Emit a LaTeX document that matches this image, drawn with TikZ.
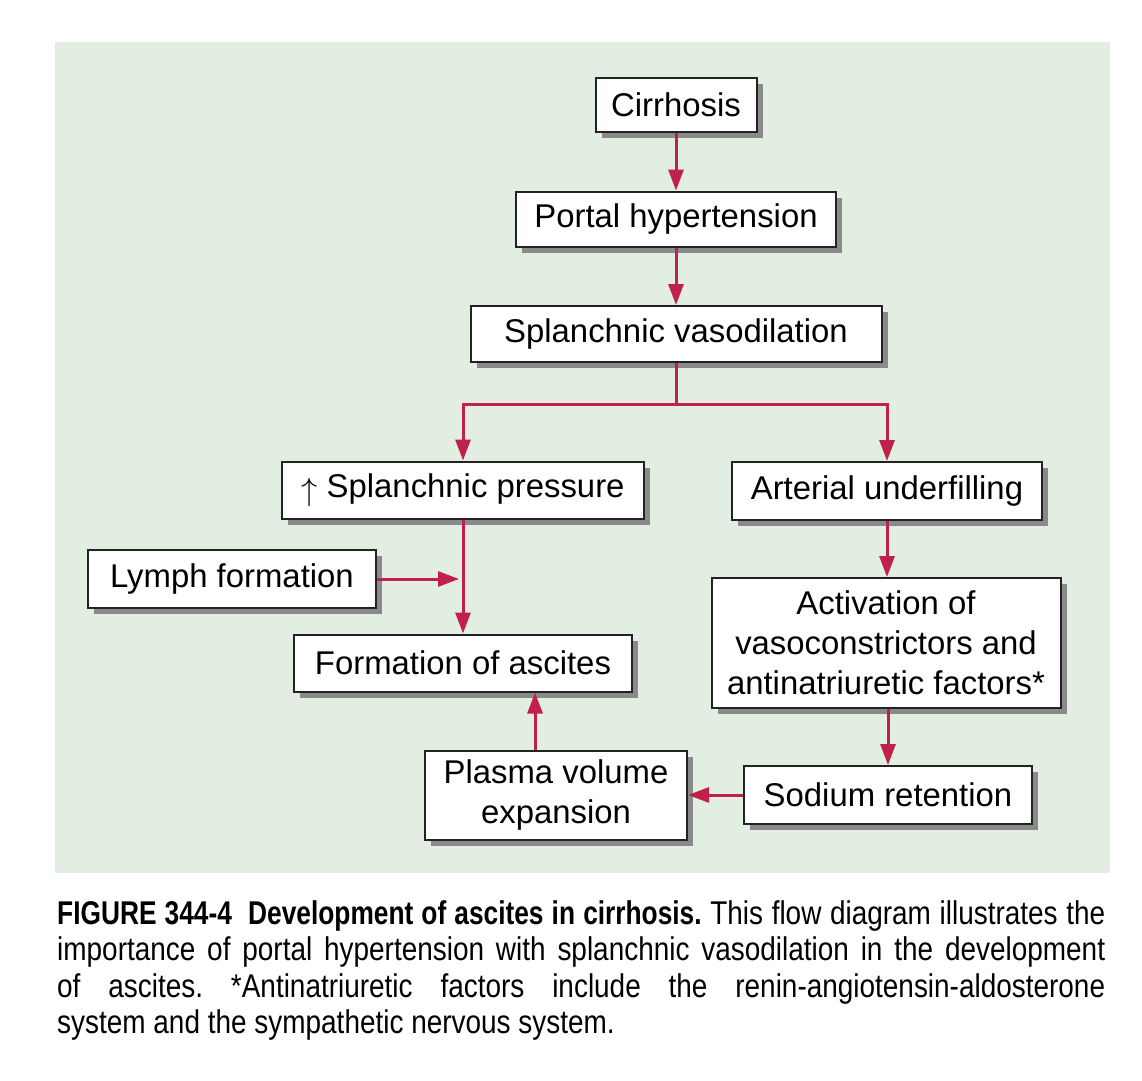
\documentclass[tikz,border=0pt]{standalone}
\usepackage{fontspec}
\usepackage{graphicx}
\setmainfont{Liberation Sans}
\newfontfamily\capfont[FakeStretch=0.85]{Liberation Sans}
\newfontfamily\capboldfont[FakeStretch=0.8,UprightFont={* Bold}]{Liberation Sans}
\usetikzlibrary{arrows.meta,shadows}
\definecolor{panel}{HTML}{E3EEE2}
\definecolor{arr}{HTML}{C0214B}
\definecolor{edge}{HTML}{222222}
\definecolor{shade}{HTML}{8A8A8A}
\frenchspacing
\begin{document}
\begin{tikzpicture}[x=1bp,y=-1bp,
  box/.style={draw=edge, line width=2bp, fill=white, inner sep=0pt, align=center,
    font=\fontsize{33}{40}\selectfont,
    drop shadow={shadow xshift=6bp, shadow yshift=-6bp, fill=shade, opacity=1}},
  flow/.style={draw=arr, line width=3bp, -{Triangle[length=21bp,width=15bp]}},
  capline/.style={anchor=base west, inner sep=0pt, font=\capfont\fontsize{33}{37}\selectfont}]
\useasboundingbox (0,0) rectangle (1142,1081);
\fill[white] (0,0) rectangle (1142,1081);
\fill[panel] (55,42) rectangle (1110,873);

\node[box, minimum width=161bp, minimum height=54bp] (cir) at (676,105) {Cirrhosis};
\node[box, minimum width=320bp, minimum height=55bp] (por) at (676,219) {Portal hypertension};
\node[box, minimum width=411bp, minimum height=56bp] (spv) at (676,334) {Splanchnic vasodilation};
\node[box, minimum width=362bp, minimum height=57bp] (spp) at (463,490) {\raisebox{-0.1em}{\scalebox{1.3}{$\uparrow$}} Splanchnic pressure};
\node[box, minimum width=310bp, minimum height=58bp] (art) at (887,491) {Arterial underfilling};
\node[box, minimum width=288bp, minimum height=58bp] (lym) at (232,579) {Lymph formation};
\node[box, minimum width=338bp, minimum height=57bp] (form) at (463,663) {Formation of ascites};
\node[box, minimum width=349bp, minimum height=130bp] (act) at (886,643) {Activation of\\vasoconstrictors and\\antinatriuretic factors*};
\node[box, minimum width=288bp, minimum height=58bp] (sod) at (888,795) {Sodium retention};
\node[box, minimum width=262bp, minimum height=89bp] (pla) at (556,795) {Plasma volume\\expansion};

\draw[flow] (cir) -- (por);
\draw[flow] (por) -- (spv);
\draw[flow] (spv.south) -- ++(0,41) -| (spp.north);
\draw[flow] (spv.south) -- ++(0,41) -| (art.north);
\coordinate (lymtip) at (459,579);
\draw[flow] (lym.east) -- (lymtip);
\draw[flow] (spp.south) -- (form.north);
\draw[flow] (art.south) -- (art.south |- act.north);
\draw[flow] (act.south -| sod.north) -- (sod.north);
\draw[flow] (sod.west) -- (pla.east);
\draw[flow] ([xshift=-21bp]pla.north) -- ([xshift=-21bp]pla.north |- form.south);

\node[capline] (cap1) at (57,924) {\makebox[1048bp][s]{{\capboldfont FIGURE 344-4\ \ Development of ascites in cirrhosis.} This flow diagram illustrates the}};
\node[capline] (cap2) at (57,960) {\makebox[1048bp][s]{importance of portal hypertension with splanchnic vasodilation in the development}};
\node[capline] (cap3) at (57,997) {\makebox[1048bp][s]{of ascites. *Antinatriuretic factors include the renin-angiotensin-aldosterone}};
\node[capline] (cap4) at (57,1033) {system and the sympathetic nervous system.};
\end{tikzpicture}
\end{document}
